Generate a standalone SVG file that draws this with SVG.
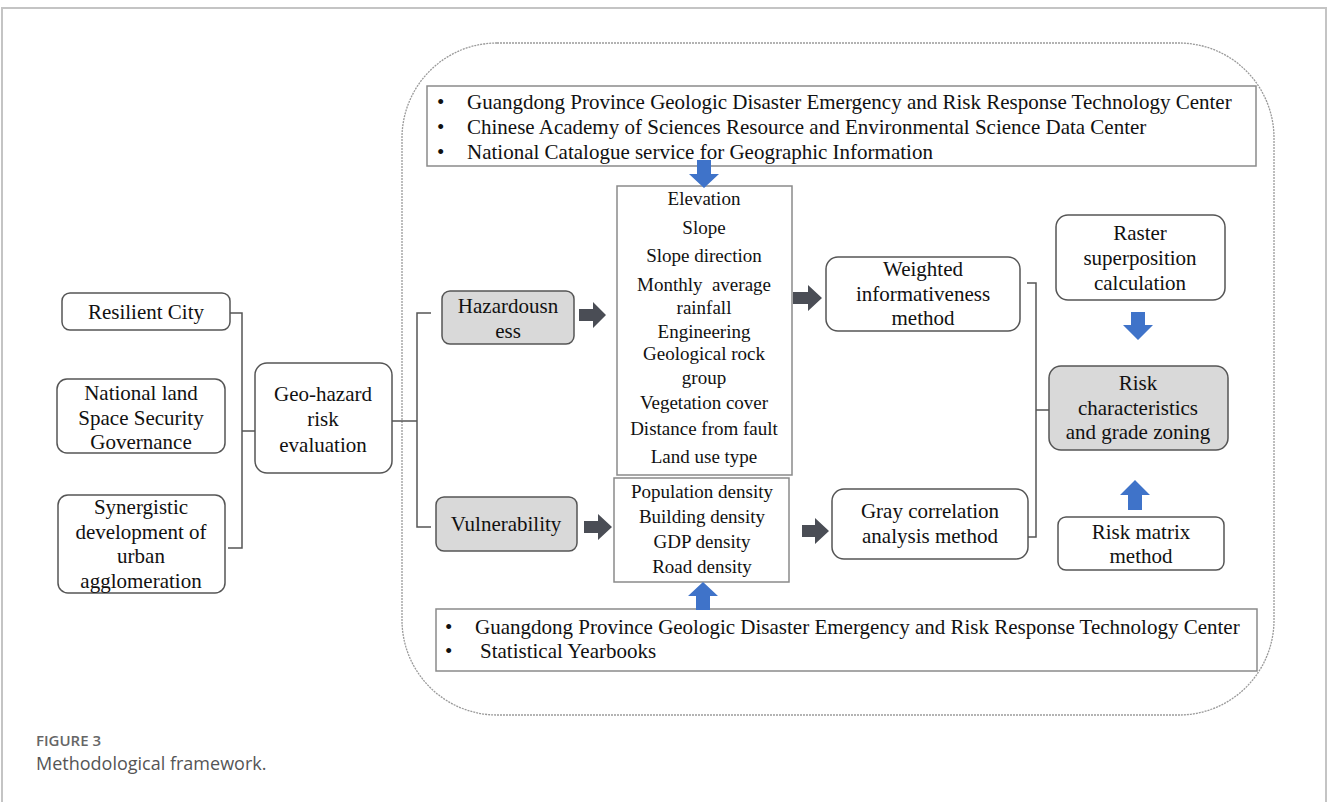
<svg xmlns="http://www.w3.org/2000/svg" width="1328" height="802" viewBox="0 0 1328 802">
<style>
.bx{fill:#fff;stroke:#555;stroke-width:1.5}
.gb{fill:#d9d9d9;stroke:#555;stroke-width:1.5}
.sq{fill:#fff;stroke:#8a8a8a;stroke-width:1.5}
.t{font-family:"Liberation Serif","Times New Roman",serif;fill:#111;text-anchor:middle}
.t21{font-size:21px}
.t19{font-size:19px}
.l{font-family:"Liberation Serif","Times New Roman",serif;fill:#111;font-size:21px}
.ln{fill:none;stroke:#555;stroke-width:1.5}
.da{fill:#4a4d55}
.ba{fill:#3f73c9}
</style>
<rect width="1328" height="802" fill="#fff"/>
<path d="M2,802 V8 H1326 V802" fill="none" stroke="#c4c4c4" stroke-width="2"/>
<rect x="402" y="43" width="872" height="672" rx="95" ry="95" fill="none" stroke="#9a9a9a" stroke-width="1.3" stroke-dasharray="2,1"/>

<g id="src-top">
<rect class="sq" x="427" y="86" width="829" height="80"/>
<text class="l" x="437" y="109">•</text>
<text class="l" x="467" y="109">Guangdong Province Geologic Disaster Emergency and Risk Response Technology Center</text>
<text class="l" x="437" y="134">•</text>
<text class="l" x="467" y="134">Chinese Academy of Sciences Resource and Environmental Science Data Center</text>
<text class="l" x="437" y="159">•</text>
<text class="l" x="467" y="159">National Catalogue service for Geographic Information</text>
</g>

<g id="src-bottom">
<rect class="sq" x="436" y="609" width="821" height="62"/>
<text class="l" x="445" y="634">•</text>
<text class="l" x="475" y="634">Guangdong Province Geologic Disaster Emergency and Risk Response Technology Center</text>
<text class="l" x="445" y="658">•</text>
<text class="l" x="480" y="658">Statistical Yearbooks</text>
</g>

<g id="resilient">
<rect class="bx" x="62" y="293" width="168" height="37" rx="8"/>
<text class="t t21" x="146" y="319">Resilient City</text>
</g>
<g id="national">
<rect class="bx" x="57" y="379" width="168" height="74" rx="10"/>
<text class="t t21" x="141" y="400">National land</text>
<text class="t t21" x="141" y="425">Space Security</text>
<text class="t t21" x="141" y="449">Governance</text>
</g>
<g id="synergistic">
<rect class="bx" x="58" y="495" width="167" height="98" rx="10"/>
<text class="t t21" x="141" y="514">Synergistic</text>
<text class="t t21" x="141" y="539">development of</text>
<text class="t t21" x="141" y="563">urban</text>
<text class="t t21" x="141" y="588">agglomeration</text>
</g>
<g id="geohazard">
<rect class="bx" x="255" y="363" width="137" height="110" rx="12"/>
<text class="t t21" x="323" y="401">Geo-hazard</text>
<text class="t t21" x="323" y="426">risk</text>
<text class="t t21" x="323" y="452">evaluation</text>
</g>
<g id="hazardousness">
<rect class="gb" x="442" y="291" width="132" height="53" rx="8"/>
<text class="t t21" x="508" y="313">Hazardousn</text>
<text class="t t21" x="508" y="338">ess</text>
</g>
<g id="vulnerability">
<rect class="gb" x="436" y="497" width="141" height="54" rx="8"/>
<text class="t t21" x="506" y="531">Vulnerability</text>
</g>
<g id="hazard-factors">
<rect class="sq" x="617" y="186" width="175" height="289"/>
<text class="t t19" x="704" y="205">Elevation</text>
<text class="t t19" x="704" y="234">Slope</text>
<text class="t t19" x="704" y="262">Slope direction</text>
<text class="t t19" x="704" y="291" style="white-space:pre">Monthly  average</text>
<text class="t t19" x="704" y="314">rainfall</text>
<text class="t t19" x="704" y="338">Engineering</text>
<text class="t t19" x="704" y="360">Geological rock</text>
<text class="t t19" x="704" y="384">group</text>
<text class="t t19" x="704" y="409">Vegetation cover</text>
<text class="t t19" x="704" y="435">Distance from fault</text>
<text class="t t19" x="704" y="463">Land use type</text>
</g>
<g id="vuln-factors">
<rect class="sq" x="614" y="478" width="175" height="104"/>
<text class="t t19" x="702" y="498">Population density</text>
<text class="t t19" x="702" y="523">Building density</text>
<text class="t t19" x="702" y="548">GDP density</text>
<text class="t t19" x="702" y="573">Road density</text>
</g>
<g id="weighted">
<rect class="bx" x="826" y="257" width="194" height="74" rx="12"/>
<text class="t t21" x="923" y="276">Weighted</text>
<text class="t t21" x="923" y="301">informativeness</text>
<text class="t t21" x="923" y="325">method</text>
</g>
<g id="gray">
<rect class="bx" x="832" y="489" width="196" height="70" rx="12"/>
<text class="t t21" x="930" y="518">Gray correlation</text>
<text class="t t21" x="930" y="543">analysis method</text>
</g>
<g id="raster">
<rect class="bx" x="1056" y="215" width="169" height="85" rx="12"/>
<text class="t t21" x="1140" y="240">Raster</text>
<text class="t t21" x="1140" y="265">superposition</text>
<text class="t t21" x="1140" y="290">calculation</text>
</g>
<g id="risk">
<rect class="gb" x="1049" y="366" width="179" height="84" rx="12"/>
<text class="t t21" x="1138" y="390">Risk</text>
<text class="t t21" x="1138" y="415">characteristics</text>
<text class="t t21" x="1138" y="439">and grade zoning</text>
</g>
<g id="riskmatrix">
<rect class="bx" x="1058" y="517" width="166" height="53" rx="8"/>
<text class="t t21" x="1141" y="539">Risk matrix</text>
<text class="t t21" x="1141" y="563">method</text>
</g>

<g id="connectors">
<path class="ln" d="M230,313 H242 V548 H228 M242,431 H255"/>
<path class="ln" d="M392,421 H417 M431,313 H417 V527 H431"/>
<path class="ln" d="M1027,283 H1036 V537 H1028 M1036,410 H1049"/>
<polygon class="da" points="579,309 593,309 593,302 606,315 593,328 593,321 579,321"/>
<polygon class="da" points="584,521 598,521 598,514 612,527 598,540 598,533 584,533"/>
<polygon class="da" points="793,292 808,292 808,285 822,298 808,311 808,304 793,304"/>
<polygon class="da" points="802,525 815,525 815,518 829,531 815,544 815,537 802,537"/>
<polygon class="ba" points="697,160 711,160 711,174 719,174 704,188 689,174 697,174"/>
<polygon class="ba" points="696,610 710,610 710,596 718,596 703,582 688,596 696,596"/>
<polygon class="ba" points="1131,312 1145,312 1145,325 1153,325 1138,340 1123,325 1131,325"/>
<polygon class="ba" points="1128,510 1142,510 1142,495 1150,495 1135,480 1120,495 1128,495"/>
</g>

<text x="36" y="746" font-family="'Open Sans','Noto Sans',sans-serif" font-size="15" font-weight="600" fill="#666">FIGURE 3</text>
<text x="36" y="770" font-family="'Open Sans','Noto Sans',sans-serif" font-size="18" fill="#555">Methodological framework.</text>
</svg>
